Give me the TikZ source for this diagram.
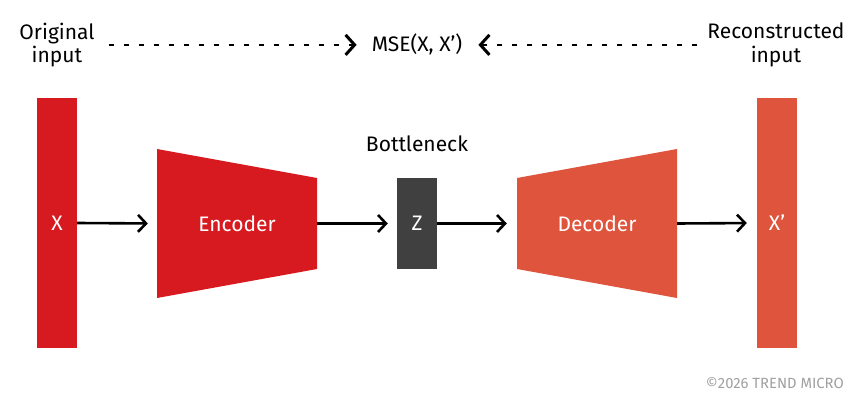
\documentclass[tikz,border=0pt]{standalone}
\usepackage{fontspec}
\setmainfont{Fira Sans}
\usetikzlibrary{arrows.meta}
\definecolor{tmred}{HTML}{D71920}
\definecolor{tmorange}{HTML}{DF543C}
\definecolor{tmdark}{HTML}{404041}
\definecolor{tmgrey}{HTML}{A0A0A0}
\tikzset{
  lbl/.style={font=\fontsize{21}{23.5}\selectfont, inner sep=0pt, text=black},
  inlbl/.style={font=\fontsize{21}{23.5}\selectfont, text=white, inner sep=0pt},
  bar/.style={minimum width=40pt, minimum height=250pt, inner sep=0pt},
  flow/.style={line width=2.6pt, -{Straight Barb[length=8pt,width=17pt,line width=2.6pt]}},
  dashflow/.style={line width=2.6pt, dash pattern=on 5pt off 10pt,
    -{Straight Barb[length=9pt,width=20pt,line width=3pt]}},
}
\begin{document}
\begin{tikzpicture}[x=1pt,y=-1pt]
\useasboundingbox (0,0) rectangle (865,401);
% bars
\node[bar, fill=tmred, inlbl] (x) at (57,223) {X};
\node[bar, fill=tmorange, inlbl] (xp) at (777,223) {X’};
% encoder / decoder trapezoids
\fill[tmred] (157,149) -- (317,178) -- (317,269) -- (157,298) -- cycle;
\node[inlbl, minimum width=160pt, minimum height=91pt] (enc) at (237,223.5) {Encoder};
\fill[tmorange] (517,178) -- (677,149) -- (677,298) -- (517,269) -- cycle;
\node[inlbl, minimum width=160pt, minimum height=91pt] (dec) at (597,223.5) {Decoder};
% bottleneck
\node[fill=tmdark, minimum width=40pt, minimum height=91pt, inner sep=0pt, inlbl] (z) at (417,223.5) {Z};
\node[lbl, anchor=base] (bn) at (417,152) {Bottleneck};
% top labels
\node[lbl, align=center] (orig) at (57,45) {Original\\input};
\node[lbl, align=center] (rec) at (776,45) {Reconstructed\\input};
\node[lbl, anchor=base] (mse) at (417,52) {MSE(X, X')};
% connectors
\draw[flow, shorten >=9pt] (x.east) -- (enc.west);
\draw[flow, shorten >=9pt] (enc.east) -- (z.west);
\draw[flow, shorten >=10pt] (z.east) -- (dec.west);
\draw[flow, shorten >=10pt] (dec.east) -- (xp.west);
\draw[dashflow, shorten <=14pt, shorten >=15pt] (orig.east |- mse.west) -- (mse.west);
\draw[dashflow, shorten <=10pt, shorten >=16pt] (rec.west |- mse.east) -- (mse.east);
% footer
\node[anchor=base east, inner sep=0pt, text=tmgrey, font=\fontsize{14.8}{17}\selectfont] (copy) at (844,388) {©2026 TREND MICRO};
\end{tikzpicture}
\end{document}
